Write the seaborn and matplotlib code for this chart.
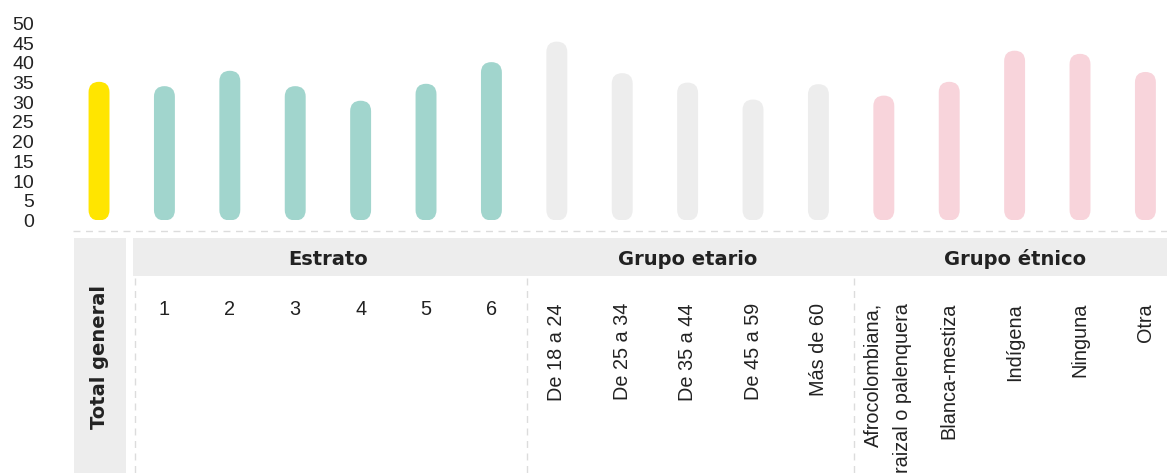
"""
Barras redondeadas por grupo (estrato, grupo etario, grupo étnico)
"""
import numpy as np
import pandas as pd
import matplotlib
matplotlib.use('Agg')
import matplotlib.pyplot as plt
import seaborn as sns
from matplotlib.patches import FancyBboxPatch, Rectangle

categorias = ['Total general', '1', '2', '3', '4', '5', '6',
              'De 18 a 24', 'De 25 a 34', 'De 35 a 44', 'De 45 a 59', 'Más de 60',
              'Afrocolombiana,\nraizal o palenquera', 'Blanca-mestiza', 'Indígena',
              'Ninguna', 'Otra']
grupos = ['Total'] + ['Estrato'] * 6 + ['Grupo etario'] * 5 + ['Grupo étnico'] * 5
valores = [35.2, 34.1, 38.0, 34.1, 30.4, 34.7, 40.2,
           45.4, 37.4, 35.0, 30.7, 34.6,
           31.7, 35.2, 43.1, 42.3, 37.7]
colores = {'Total': '#FFE500', 'Estrato': '#A1D5CD',
           'Grupo etario': '#EDEDED', 'Grupo étnico': '#F8D4DB'}
yticks = list(range(0, 51, 5))

df = pd.DataFrame({'categoria': categorias, 'valor': valores, 'grupo': grupos})

sns.set_theme(style='white')
plt.rcParams['font.family'] = ['Liberation Sans', 'DejaVu Sans']
texto = '#222222'
linea = '#dcdcdc'

W, H = 1167, 473
fig = plt.figure(figsize=(W / 100, H / 100), dpi=100)

# --- barras ---
ax = fig.add_axes([66 / W, (H - 220.5) / H, (W - 66) / W, (220.5 - 15) / H])
sns.barplot(data=df, x='categoria', y='valor', hue='grupo', palette=colores,
            order=categorias, dodge=False, width=0.32, saturation=1,
            legend=False, ax=ax)
xlim = (-0.505, len(categorias) - 1 + 0.33)
ax.set_xlim(*xlim)
ax.set_ylim(0, (220.5 - 15) / 3.94)
ax.set_yticks(yticks)
ax.set_xticks([])
ax.set_xlabel('')
ax.set_ylabel('')
ax.tick_params(axis='y', length=0, pad=23, labelsize=14, labelcolor=texto)
sns.despine(ax=ax, left=True, bottom=True)

# extremos redondeados
p0 = ax.transData.transform((0, 0))
p1 = ax.transData.transform((1, 1))
aspecto = (p1[0] - p0[0]) / (p1[1] - p0[1])
for p in list(ax.patches):
    x, y, w, h = p.get_x(), p.get_y(), p.get_width(), p.get_height()
    fb = FancyBboxPatch((x, y), w, h, boxstyle=f'round,pad=0,rounding_size={w / 2}',
                        mutation_aspect=aspecto, fc=p.get_facecolor(), ec='none')
    p.remove()
    ax.add_patch(fb)

# --- tabla de etiquetas ---
ax2 = fig.add_axes([66 / W, 0, (W - 66) / W, (H - 222) / H])
ax2.set_xlim(*xlim)
ax2.set_ylim(H, 222)
ax2.axis('off')

pos = np.arange(len(categorias))
ax2.plot([-0.40, xlim[1]], [230.5, 230.5], color=linea, lw=1, dashes=(5, 4))
ax2.add_patch(Rectangle((-0.39, 238), 0.80, H - 238, fc='#EDEDED', ec='none'))
ax2.add_patch(Rectangle((0.52, 238), xlim[1] - 0.52, 38, fc='#EDEDED', ec='none'))

ax2.text(0, 357, 'Total general', rotation=90, ha='center', va='center',
         fontsize=14, fontweight='bold', color=texto, family=['DejaVu Sans'])

for g in ['Estrato', 'Grupo etario', 'Grupo étnico']:
    idx = [i for i, gg in enumerate(grupos) if gg == g]
    ax2.text(np.mean(idx), 259, g, ha='center', va='center', fontsize=14,
             fontweight='bold', color=texto, family=['DejaVu Sans'])
    ax2.plot([idx[0] - 0.45] * 2, [278, H], color=linea, lw=1, dashes=(5, 4))

for i, (cat, g) in enumerate(zip(categorias, grupos)):
    if g == 'Total':
        continue
    if g == 'Estrato':
        ax2.text(pos[i], 309, cat, ha='center', va='center', fontsize=14.3, color=texto)
    else:
        ax2.text(pos[i] + (0.06 if '\n' in cat else 0), 303, cat, ha='center', va='top',
                 rotation=90, multialignment='right', linespacing=1.75,
                 fontsize=14.3, color=texto)

fig.savefig('out.png', dpi=100)
plt.close(fig)
